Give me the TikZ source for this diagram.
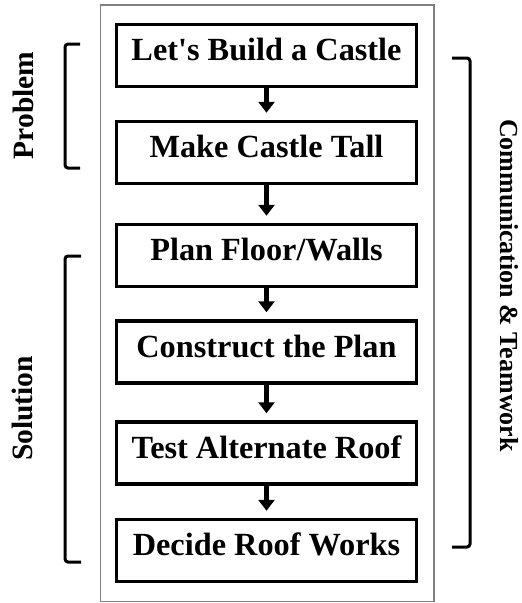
\documentclass[tikz,border=0pt]{standalone}
\usepackage{fontspec}
\setmainfont{Liberation Serif}[Ligatures=TeXOff]
\usetikzlibrary{arrows.meta}
\begin{document}
\begin{tikzpicture}[x=1pt,y=-1pt,
  stepbox/.style={draw=black, line width=3.5pt, minimum width=300pt, minimum height=62pt,
    inner sep=0pt, text height=22pt, text depth=12pt,
    font=\fontsize{32.3}{38}\selectfont\bfseries},
  flow/.style={line width=5pt, -{Triangle[width=16pt,length=11pt]}, shorten >=7pt},
  bracket/.style={line width=3pt, rounded corners=3pt},
  sidelabel/.style={inner sep=0pt, font=\fontsize{29.5}{34}\selectfont\bfseries},
  frame/.style={draw=black!50, line width=1.2pt}
]
\useasboundingbox (0,0) rectangle (522,603);
\draw[frame] (100.5,5) rectangle (434,601.5);

\node[stepbox] (b1) at (266.5,55.5)  {Let's Build a Castle};
\node[stepbox] (b2) at (266.5,152.5) {Make Castle Tall};
\node[stepbox] (b3) at (266.5,255.5) {Plan Floor/Walls};
\node[stepbox] (b4) at (266.5,352)   {Construct the Plan};
\node[stepbox] (b5) at (266.5,453)   {Test Alternate Roof};
\node[stepbox] (b6) at (266.5,550.5) {Decide Roof Works};

\draw[flow] (b1.south) -- (b2.north);
\draw[flow] (b2.south) -- (b3.north);
\draw[flow] (b3.south) -- (b4.north);
\draw[flow] (b4.south) -- (b5.north);
\draw[flow] (b5.south) -- (b6.north);

% brackets
\draw[bracket] (80,44) -- (65,44) -- (65,168) -- (80,168);
\draw[bracket] (81,256) -- (65,256) -- (65,562) -- (81,562);
\draw[bracket] (452,58) -- (470,58) -- (470,547) -- (452,547);

\node[sidelabel, rotate=90] (prob) at (23,105.5) {Problem};
\node[sidelabel, rotate=90] (sol) at (22,408.5) {Solution};
\node[sidelabel, rotate=-90, font=\fontsize{26}{30}\selectfont\bfseries] (comm) at (509,285.5) {Communication \& Teamwork};
\end{tikzpicture}
\end{document}
